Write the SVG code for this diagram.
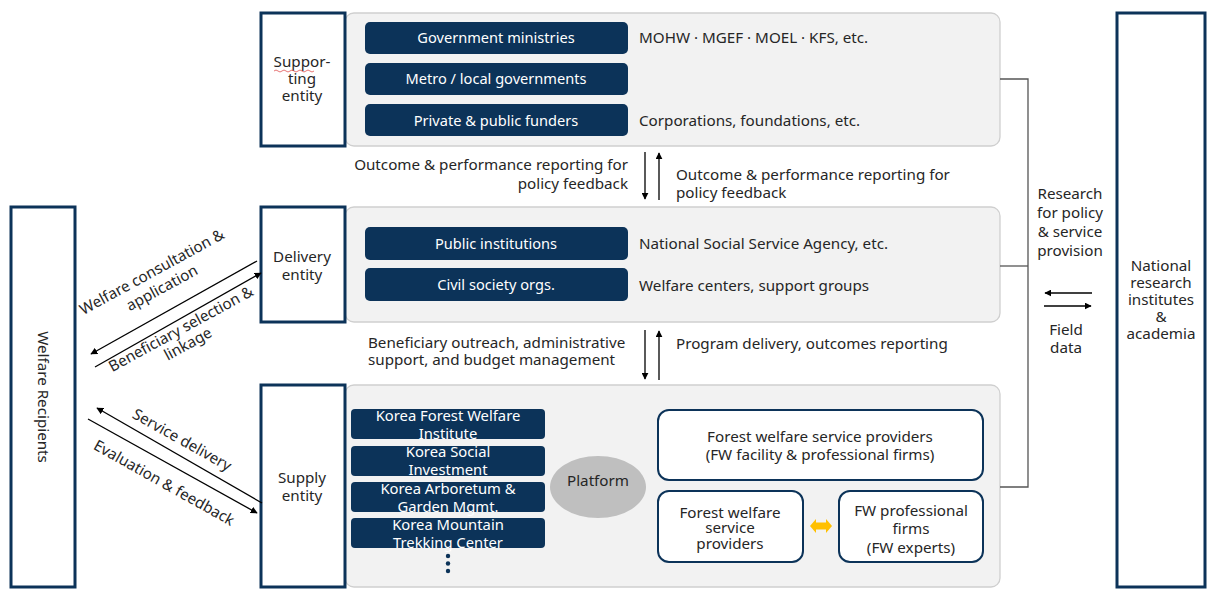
<svg xmlns="http://www.w3.org/2000/svg" width="1217" height="602" viewBox="0 0 1217 602">
<defs>
<marker id="ah" viewBox="0 0 10 10" refX="9" refY="5" markerWidth="7" markerHeight="7" orient="auto-start-reverse" markerUnits="userSpaceOnUse">
<path d="M0,0 L10,5 L0,10 z" fill="#000"/>
</marker>
<style>
.ent{fill:#fff;stroke:#0c3359;stroke-width:3}
.panel{fill:#f2f2f2;stroke:#cfcfcf;stroke-width:1.3}
.nb{fill:#0c3359}
.wb{fill:#fff;stroke:#0c3359;stroke-width:2}
text{font-family:"Noto Sans","Open Sans",sans-serif;font-size:15.2px;fill:#262626}
.w{fill:#fff;font-size:14.6px}
.s{font-size:14.8px}
.c{text-anchor:middle}
.r{text-anchor:end}
.ln{stroke:#000;stroke-width:1.3;fill:none}
.br{stroke:#555;stroke-width:1.3;fill:none}
</style>
</defs>

<g id="panel-supporting">
<rect class="panel" x="345" y="13" width="655" height="133" rx="9"/>
</g>
<g id="panel-delivery">
<rect class="panel" x="345" y="207" width="655" height="115" rx="9"/>
</g>
<g id="panel-supply">
<rect class="panel" x="345" y="385" width="655" height="202" rx="9"/>
</g>

<g id="welfare-recipients">
<rect class="ent" x="11" y="207" width="64" height="380"/>
<text class="c" transform="translate(38,397) rotate(90)">Welfare Recipients</text>
</g>
<g id="supporting-entity">
<rect class="ent" x="261" y="13" width="84" height="133"/>
<text class="c" x="302" y="67">Suppor-</text>
<text class="c" x="302" y="84">ting</text>
<text class="c" x="302" y="101">entity</text>
<path d="M274,71 q2,-2 4,0 t4,0 t4,0 t4,0 t4,0 t4,0 t4,0 t4,0 t4,0 t4,0" fill="none" stroke="#e05050" stroke-width="0.8"/>
</g>
<g id="delivery-entity">
<rect class="ent" x="261" y="207" width="84" height="115"/>
<text class="c" x="302" y="262">Delivery</text>
<text class="c" x="302" y="280">entity</text>
</g>
<g id="supply-entity">
<rect class="ent" x="261" y="385" width="84" height="202"/>
<text class="c" x="302" y="483">Supply</text>
<text class="c" x="302" y="501">entity</text>
</g>
<g id="national-research">
<rect class="ent" x="1117" y="13" width="88" height="574"/>
<text class="c" x="1161" y="271">National</text>
<text class="c" x="1161" y="288">research</text>
<text class="c" x="1161" y="305">institutes</text>
<text class="c" x="1161" y="322">&amp;</text>
<text class="c" x="1161" y="339">academia</text>
</g>

<g id="gov-ministries">
<rect class="nb" x="365" y="22" width="263" height="32" rx="5"/>
<text class="c w" x="496" y="43">Government ministries</text>
<text x="639" y="43">MOHW · MGEF · MOEL · KFS, etc.</text>
</g>
<g id="metro-local">
<rect class="nb" x="365" y="63" width="263" height="32" rx="5"/>
<text class="c w" x="496" y="84">Metro / local governments</text>
</g>
<g id="private-public-funders">
<rect class="nb" x="365" y="104" width="263" height="32" rx="5"/>
<text class="c w" x="496" y="126">Private &amp; public funders</text>
<text x="639" y="126">Corporations, foundations, etc.</text>
</g>
<g id="public-institutions">
<rect class="nb" x="365" y="227" width="263" height="33" rx="5"/>
<text class="c w" x="496" y="249">Public institutions</text>
<text x="639" y="249">National Social Service Agency, etc.</text>
</g>
<g id="civil-society">
<rect class="nb" x="365" y="268" width="263" height="33" rx="5"/>
<text class="c w" x="496" y="290">Civil society orgs.</text>
<text x="639" y="291">Welfare centers, support groups</text>
</g>

<g id="kfwi">
<rect class="nb" x="351" y="409" width="194" height="30" rx="4"/>
<text class="c w s" x="448" y="421">Korea Forest Welfare</text>
<text class="c w s" x="448" y="439">Institute</text>
</g>
<g id="ksi">
<rect class="nb" x="351" y="446" width="194" height="30" rx="4"/>
<text class="c w s" x="448" y="457">Korea Social</text>
<text class="c w s" x="448" y="475">Investment</text>
</g>
<g id="kagm">
<rect class="nb" x="351" y="482" width="194" height="30" rx="4"/>
<text class="c w s" x="448" y="494">Korea Arboretum &amp;</text>
<text class="c w s" x="448" y="512">Garden Mgmt.</text>
</g>
<g id="kmtc">
<rect class="nb" x="351" y="518" width="194" height="30" rx="4"/>
<text class="c w s" x="448" y="530">Korea Mountain</text>
<text class="c w s" x="448" y="548">Trekking Center</text>
</g>
<g id="more-dots">
<circle cx="448" cy="556" r="2.2" fill="#0c3359"/>
<circle cx="448" cy="563.5" r="2.2" fill="#0c3359"/>
<circle cx="448" cy="571" r="2.2" fill="#0c3359"/>
</g>
<g id="platform">
<ellipse cx="598" cy="487" rx="48" ry="31" fill="#bfbfbf"/>
<text class="c" x="598" y="486">Platform</text>
</g>
<g id="fw-providers-main">
<rect class="wb" x="658" y="410" width="325" height="70" rx="11"/>
<text class="c" x="820" y="442">Forest welfare service providers</text>
<text class="c" x="820" y="460">(FW facility &amp; professional firms)</text>
</g>
<g id="fw-providers">
<rect class="wb" x="658" y="491" width="145" height="71" rx="11"/>
<text class="c" x="730" y="518">Forest welfare</text>
<text class="c" x="730" y="533">service</text>
<text class="c" x="730" y="549">providers</text>
</g>
<g id="fw-firms">
<rect class="wb" x="839" y="491" width="144" height="71" rx="11"/>
<text class="c" x="911" y="516">FW professional</text>
<text class="c" x="911" y="534">firms</text>
<text class="c" x="911" y="553">(FW experts)</text>
</g>

<g id="connectors">
<path d="M810,526 L816,519 L816,522.5 L826,522.5 L826,519 L832,526 L826,533 L826,529.5 L816,529.5 L816,533 z" fill="#ffc000"/>
<line class="ln" x1="645" y1="152" x2="645" y2="199" marker-end="url(#ah)"/>
<line class="ln" x1="659" y1="200" x2="659" y2="153" marker-end="url(#ah)"/>
<line class="ln" x1="645" y1="330" x2="645" y2="379" marker-end="url(#ah)"/>
<line class="ln" x1="659" y1="380" x2="659" y2="331" marker-end="url(#ah)"/>
<line class="ln" x1="257" y1="261" x2="91" y2="354" marker-end="url(#ah)"/>
<line class="ln" x1="95" y1="367" x2="261" y2="273" marker-end="url(#ah)"/>
<line class="ln" x1="262" y1="503" x2="97" y2="408" marker-end="url(#ah)"/>
<line class="ln" x1="88" y1="419" x2="257" y2="513" marker-end="url(#ah)"/>
<polyline class="br" points="1000,79 1028,79 1028,487 1000,487"/>
<line class="br" x1="1000" y1="266" x2="1028" y2="266"/>
<line class="ln" x1="1092" y1="293" x2="1045" y2="293" marker-end="url(#ah)"/>
<line class="ln" x1="1044" y1="306" x2="1091" y2="306" marker-end="url(#ah)"/>
</g>

<g id="labels">
<text class="r" x="628" y="170">Outcome &amp; performance reporting for</text>
<text class="r" x="628" y="189">policy feedback</text>
<text x="676" y="180">Outcome &amp; performance reporting for</text>
<text x="676" y="198">policy feedback</text>
<text x="368" y="348">Beneficiary outreach, administrative</text>
<text x="368" y="365">support, and budget  management</text>
<text x="676" y="349">Program delivery, outcomes reporting</text>
<text class="c" x="1070" y="199">Research</text>
<text class="c" x="1070" y="218">for policy</text>
<text class="c" x="1070" y="237">&amp; service</text>
<text class="c" x="1070" y="256">provision</text>
<text class="c" x="1066" y="335">Field</text>
<text class="c" x="1066" y="353">data</text>
<text class="c" transform="translate(152,272) rotate(-28.6)" dy="5">Welfare consultation &amp;</text>
<text class="c" transform="translate(162,288) rotate(-28.6)" dy="5">application</text>
<text class="c" transform="translate(181,329) rotate(-28.6)" dy="5">Beneficiary selection &amp;</text>
<text class="c" transform="translate(188,344) rotate(-28.6)" dy="5">linkage</text>
<text class="c" transform="translate(182,440) rotate(29.3)" dy="5">Service delivery</text>
<text class="c" transform="translate(164,483) rotate(29.3)" dy="5">Evaluation &amp; feedback</text>
</g>
</svg>
